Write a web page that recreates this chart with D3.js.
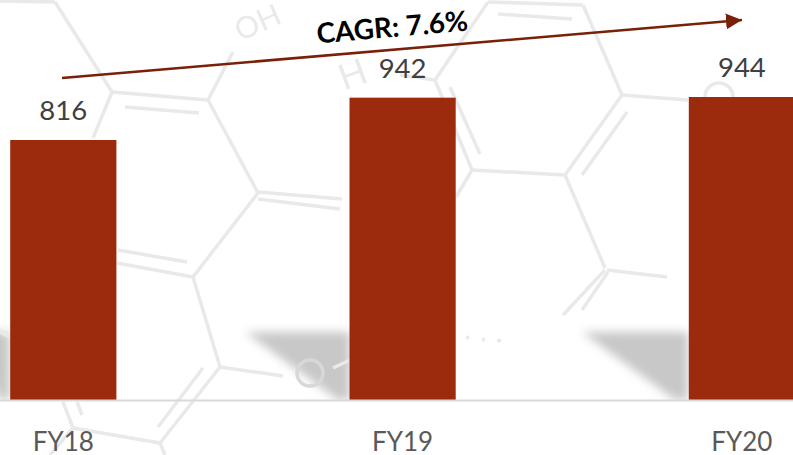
<!DOCTYPE html>
<html>
<head>
<meta charset="utf-8">
<script src="https://cdn.jsdelivr.net/npm/d3@7"></script>
<style>
  html, body { margin: 0; padding: 0; background: #fff; }
  svg { display: block; font-family: Lato, "Open Sans", sans-serif; }
</style>
</head>
<body>
<div id="chart"></div>
<script>
const years = ["FY18", "FY19", "FY20"];
const revenue = [816, 942, 944];
const cagrLabel = "CAGR: 7.6%";

const WIDTH = 793;
const HEIGHT = 455;
const BASELINE = 400;
const BAR_COLOR = "#9c2b0e";
const ARROW_COLOR = "#7a2008";
const WATERMARK = "#e9e9e9";

// faint molecule behind the chart
const bonds = [
  [0, 1, 55, 2], [55, 2, 112, 92], [112, 92, 208, 100], [125, 107, 199, 113],
  [112, 92, 93, 138], [208, 100, 233, 52], [208, 100, 258, 193],
  [258, 192, 342, 199], [258, 199, 340, 209], [258, 193, 193, 277],
  [118, 250, 187, 262], [117, 263, 193, 277], [193, 277, 220, 367],
  [220, 367, 283, 376], [333, 368, 350, 360], [220, 367, 160, 443],
  [203, 368, 158, 427], [160, 443, 73, 428], [73, 428, 63, 402],
  [82, 415, 77, 402], [160, 443, 165, 455], [73, 428, 50, 455],
  [0, 332, 10, 337], [488, 2, 583, 5], [498, 14, 572, 19], [488, 2, 435, 80],
  [583, 5, 622, 95], [400, 75, 435, 80], [435, 80, 472, 170], [450, 87, 480, 154],
  [472, 170, 565, 175], [472, 170, 456, 197], [622, 95, 565, 175],
  [627, 112, 582, 175], [622, 95, 688, 100], [565, 175, 605, 268],
  [607, 270, 667, 277], [605, 270, 563, 315], [608, 272, 582, 310],
  [466, 337, 469, 338], [482, 339, 485, 340], [497, 341, 501, 340]
];
const atoms = [[310, 373, 13, "#d8d8d8"], [719, 97, 14, WATERMARK]];
const shadows = [
  "-30,332 10,332 10,400 0,400",
  "245,332 350,332 350,400 338,400",
  "582,332 688,332 688,400 675,400"
];

const svg = d3.select("#chart").append("svg")
  .attr("width", WIDTH)
  .attr("height", HEIGHT)
  .attr("viewBox", `0 0 ${WIDTH} ${HEIGHT}`);

const defs = svg.append("defs");
defs.append("filter").attr("id", "soft")
  .attr("x", "-20%").attr("y", "-20%").attr("width", "140%").attr("height", "140%")
  .append("feGaussianBlur").attr("stdDeviation", 5);
defs.append("filter").attr("id", "faint")
  .attr("filterUnits", "userSpaceOnUse")
  .attr("x", 0).attr("y", 0).attr("width", WIDTH).attr("height", HEIGHT)
  .append("feGaussianBlur").attr("stdDeviation", 0.6);
defs.append("clipPath").attr("id", "above-axis")
  .append("rect").attr("width", WIDTH).attr("height", BASELINE);

// —— Shadows, then watermark on top of them ——
svg.append("g")
  .attr("clip-path", "url(#above-axis)")
  .selectAll("polygon").data(shadows).join("polygon")
  .attr("points", (d) => d)
  .attr("fill", "#c8c8c8")
  .attr("filter", "url(#soft)");

const bg = svg.append("g").attr("class", "watermark").attr("filter", "url(#faint)");

bg.selectAll("line").data(bonds).join("line")
  .attr("x1", (d) => d[0]).attr("y1", (d) => d[1])
  .attr("x2", (d) => d[2]).attr("y2", (d) => d[3])
  .attr("stroke", WATERMARK)
  .attr("stroke-width", 3.5);

bg.selectAll("circle").data(atoms).join("circle")
  .attr("cx", (d) => d[0]).attr("cy", (d) => d[1]).attr("r", (d) => d[2])
  .attr("fill", "none")
  .attr("stroke", (d) => d[3])
  .attr("stroke-width", 3.5);

bg.append("text")
  .attr("transform", "translate(262,32) rotate(-24)")
  .attr("text-anchor", "middle")
  .attr("fill", WATERMARK)
  .attr("font-size", 30)
  .text("OH");

bg.append("text")
  .attr("transform", "translate(357,86) rotate(-20)")
  .attr("text-anchor", "middle")
  .attr("fill", WATERMARK)
  .attr("font-size", 36)
  .text("H");

// —— Scales ——
const x = d3.scaleBand()
  .domain(years)
  .range([10.2, 795])
  .paddingInner(0.687)
  .paddingOuter(0);

// the bars in the picture do not quite start from zero
const y = d3.scaleLinear()
  .domain([42, 944])
  .range([BASELINE, 97]);

// —— Bars ——
svg.selectAll(".bar")
  .data(years)
  .join("rect")
  .attr("class", "bar")
  .attr("x", (d) => x(d))
  .attr("y", (d, i) => y(revenue[i]))
  .attr("width", x.bandwidth())
  .attr("height", (d, i) => BASELINE - y(revenue[i]))
  .attr("fill", BAR_COLOR);

svg.selectAll(".bar-label")
  .data(years)
  .join("text")
  .attr("class", "bar-label")
  .attr("x", (d) => x(d) + x.bandwidth() / 2)
  .attr("y", (d, i) => y(revenue[i]) - 20)
  .attr("text-anchor", "middle")
  .attr("fill", "#404040")
  .attr("font-size", 27.5)
  .text((d, i) => revenue[i]);

// —— Axis ——
svg.append("line")
  .attr("x1", 0).attr("x2", WIDTH)
  .attr("y1", BASELINE + 0.5).attr("y2", BASELINE + 0.5)
  .attr("stroke", "#d9d9d9")
  .attr("stroke-width", 2);

const xAxis = svg.append("g")
  .attr("transform", `translate(0,${BASELINE})`)
  .call(d3.axisBottom(x).tickSize(0).tickPadding(33));
xAxis.select(".domain").remove();
xAxis.selectAll("text")
  .attr("fill", "#595959")
  .attr("font-family", "Lato, sans-serif")
  .attr("font-size", 26);

// —— CAGR arrow ——
defs.append("marker")
  .attr("id", "arrowhead")
  .attr("viewBox", "0 0 16 16")
  .attr("refX", 16).attr("refY", 8)
  .attr("markerWidth", 16).attr("markerHeight", 16)
  .attr("markerUnits", "userSpaceOnUse")
  .attr("orient", "auto")
  .append("path")
  .attr("d", "M0,0L16,8L0,16Z")
  .attr("fill", ARROW_COLOR);

svg.append("line")
  .attr("x1", 62).attr("y1", 78)
  .attr("x2", 742).attr("y2", 20)
  .attr("stroke", ARROW_COLOR)
  .attr("stroke-width", 2.5)
  .attr("marker-end", "url(#arrowhead)");

svg.append("text")
  .attr("transform", "translate(393,37) rotate(-5)")
  .attr("text-anchor", "middle")
  .attr("fill", "#000")
  .attr("font-size", 28)
  .attr("font-weight", 700)
  .text(cagrLabel);
</script>
</body>
</html>
